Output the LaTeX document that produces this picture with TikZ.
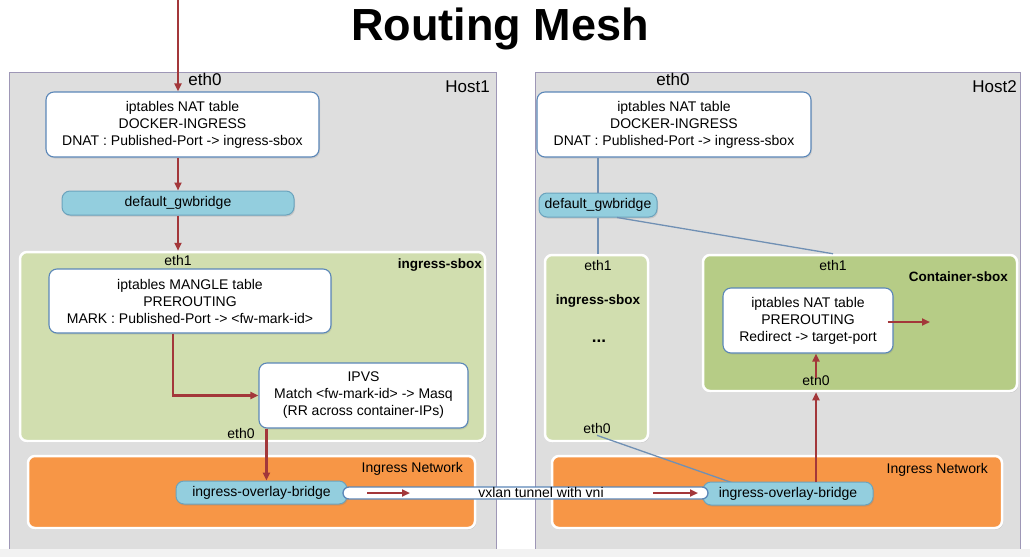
\documentclass[tikz,border=0pt]{standalone}
\usepackage{fontspec}
\setmainfont{Liberation Sans}
\usetikzlibrary{shadows,arrows.meta,calc}
\definecolor{hostfill}{HTML}{DEDEDE}
\definecolor{hostline}{HTML}{9E97B6}
\definecolor{sboxlight}{HTML}{D1DEAF}
\definecolor{sboxdark}{HTML}{B6CC86}
\definecolor{netorange}{HTML}{F79646}
\definecolor{bridgefill}{HTML}{93CEDE}
\definecolor{bridgeline}{HTML}{6BA3BD}
\definecolor{boxline}{HTML}{5B87B8}
\definecolor{flowred}{HTML}{A3373A}
\definecolor{linkblue}{HTML}{7090B4}
\begin{document}
\begin{tikzpicture}[x=1pt,y=-1pt,
  hostbox/.style={draw=hostline,fill=hostfill,line width=1pt,anchor=north west,inner sep=0pt},
  zone/.style={draw=white,line width=2.5pt,rounded corners=7pt,inner sep=0pt,
    drop shadow={opacity=0.25,shadow xshift=1pt,shadow yshift=-1.5pt}},
  tablebox/.style={draw=boxline,fill=white,line width=1.1pt,rounded corners=8pt,inner sep=0pt,
    align=center,font=\fontsize{14}{17}\selectfont,
    drop shadow={opacity=0.2,shadow xshift=1pt,shadow yshift=-1.5pt}},
  bridgebox/.style={draw=bridgeline,fill=bridgefill,line width=1pt,rounded corners=8pt,inner sep=0pt,
    font=\fontsize{14}{17}\selectfont,
    drop shadow={opacity=0.25,shadow xshift=1pt,shadow yshift=-1.5pt}},
  lbl/.style={inner sep=0pt,font=\fontsize{14}{17}\selectfont},
  biglbl/.style={inner sep=0pt,font=\fontsize{17}{20}\selectfont},
  boldlbl/.style={inner sep=0pt,font=\fontsize{13.5}{17}\selectfont\bfseries},
  flow/.style={draw=flowred,line width=2.2pt,-{Triangle[length=8pt,width=7pt]}},
  link/.style={draw=linkblue,line width=1.3pt}
]
\useasboundingbox (0,0) rectangle (1030,557);
\fill[white] (0,0) rectangle (1030,557);

% title
\node[inner sep=0pt,font=\fontsize{45}{50}\selectfont\bfseries] (title) at (500,29) {Routing Mesh};

% hosts
\node[hostbox,minimum width=487pt,minimum height=480pt] (hostA) at (9,72) {};
\node[hostbox,minimum width=485pt,minimum height=480pt] (hostB) at (535,72) {};
\node[biglbl,anchor=east] (hostAl) at (490,87) {Host1};
\node[biglbl,anchor=east] (hostBl) at (1017,87) {Host2};
\node[biglbl] (eth0A) at (205,79) {eth0};
\node[biglbl] (eth0B) at (673,79) {eth0};

% zones host1
\node[zone,fill=sboxlight,minimum width=465pt,minimum height=189pt] (sboxA) at (252.5,346.5) {};
\node[zone,fill=netorange,minimum width=447pt,minimum height=72pt] (netA) at (251.5,492) {};
% zones host2
\node[zone,fill=sboxlight,minimum width=103pt,minimum height=186pt] (sboxB) at (596.5,348) {};
\node[zone,fill=sboxdark,minimum width=314pt,minimum height=136pt] (contB) at (860,323) {};
\node[zone,fill=netorange,minimum width=450pt,minimum height=72pt] (netB) at (777,492) {};

% zone labels
\node[lbl] (eth1A) at (178,260) {eth1};
\node[boldlbl,anchor=east] (sboxAl) at (482,265) {ingress-sbox};
\node[lbl] (eth0Ai) at (241,433) {eth0};
\node[lbl,anchor=east] (netAl) at (463,469) {Ingress Network};
\node[lbl] (eth1S) at (598,265) {eth1};
\node[boldlbl] (sboxBl) at (598,301) {ingress-sbox};
\node[inner sep=0pt,font=\fontsize{17}{17}\selectfont\bfseries] (dots) at (599,341) {...};
\node[lbl] (eth0S) at (597,428) {eth0};
\node[lbl] (eth1C) at (833,265) {eth1};
\node[boldlbl,anchor=east] (contBl) at (1008,277) {Container-sbox};
\node[lbl] (eth0C) at (816,380) {eth0};
\node[lbl,anchor=east] (netBl) at (988,470) {Ingress Network};

% table boxes
\node[tablebox,minimum width=273pt,minimum height=65pt] (natA) at (182.5,124.5)
  {iptables NAT table\\DOCKER-INGRESS\\DNAT : Published-Port -> ingress-sbox};
\node[tablebox,minimum width=282pt,minimum height=64pt] (mangle) at (190,301)
  {iptables MANGLE table\\PREROUTING\\MARK : Published-Port -> <fw-mark-id>};
\node[tablebox,minimum width=209pt,minimum height=65pt] (ipvs) at (363.5,395.5)
  {IPVS\\Match <fw-mark-id> -> Masq\\(RR across container-IPs)};
\node[tablebox,minimum width=274pt,minimum height=65pt] (natB) at (674,124.5)
  {iptables NAT table\\DOCKER-INGRESS\\DNAT : Published-Port -> ingress-sbox};
\node[tablebox,minimum width=170pt,minimum height=65pt] (natC) at (808,320.5)
  {iptables NAT table\\PREROUTING\\Redirect -> target-port};

% bridges
\node[bridgebox,minimum width=232pt,minimum height=24pt] (gwA) at (178,203) {default\_gwbridge};
\node[bridgebox,minimum width=118pt,minimum height=24pt] (gwB) at (598,205) {default\_gwbridge};

% host2 links
\draw[link] (gwB.north |- natB.south) -- (gwB.north);
\draw[link] (gwB.south) -- (gwB.south |- sboxB.north);
\draw[link] ([xshift=19pt]gwB.south) -- (eth1C |- contB.north);
\draw[link] ([yshift=-2pt]eth0S.south) -- (733,483);

% overlay bridges
\node[bridgebox,minimum width=171pt,minimum height=23pt] (bridgeA) at (261.5,492.5) {ingress-overlay-bridge};
\node[bridgebox,minimum width=170pt,minimum height=23pt] (bridgeB) at (788,493.5) {ingress-overlay-bridge};

% host1 flow
\coordinate (entry) at (178,0);
\draw[flow] (entry) -- (entry |- natA.north);
\draw[flow] (gwA.north |- natA.south) -- (gwA.north);
\draw[flow] (gwA.south) -- (gwA.south |- sboxA.north);
\draw[flow] ([xshift=-17pt]mangle.south) |- (ipvs.west);
\draw[flow] ([xshift=8pt]ipvs.south west) -- ([xshift=8pt]ipvs.south west |- bridgeA.north);

% host2 flow
\draw[flow] (eth0C |- bridgeB.north) -- (eth0C |- contB.south);
\draw[flow] ([yshift=2pt]eth0C.center) -- (eth0C |- natC.south);
\coordinate (outC) at (930,322);
\draw[flow] ([xshift=-6pt]natC.east |- outC) -- (outC);

% tunnel
\node[draw=boxline,fill=white,line width=1.3pt,rounded corners=6pt,inner sep=0pt,
  minimum width=365pt,minimum height=12pt] (tunnel) at (525.5,493) {};
\node[inner sep=0pt,font=\fontsize{14}{14}\selectfont] (tunnell) at (541,492.5) {vxlan tunnel with vni};
\coordinate (tA1) at (367,493); \coordinate (tA2) at (410,493);
\coordinate (tB1) at (653,493); \coordinate (tB2) at (698,493);
\draw[flow,line width=2pt] (tA1) -- (tA2);
\draw[flow,line width=2pt] (tB1) -- (tB2);

% bottom strip
\fill[black!5] (0,549) rectangle (1030,557);
\end{tikzpicture}
\end{document}
